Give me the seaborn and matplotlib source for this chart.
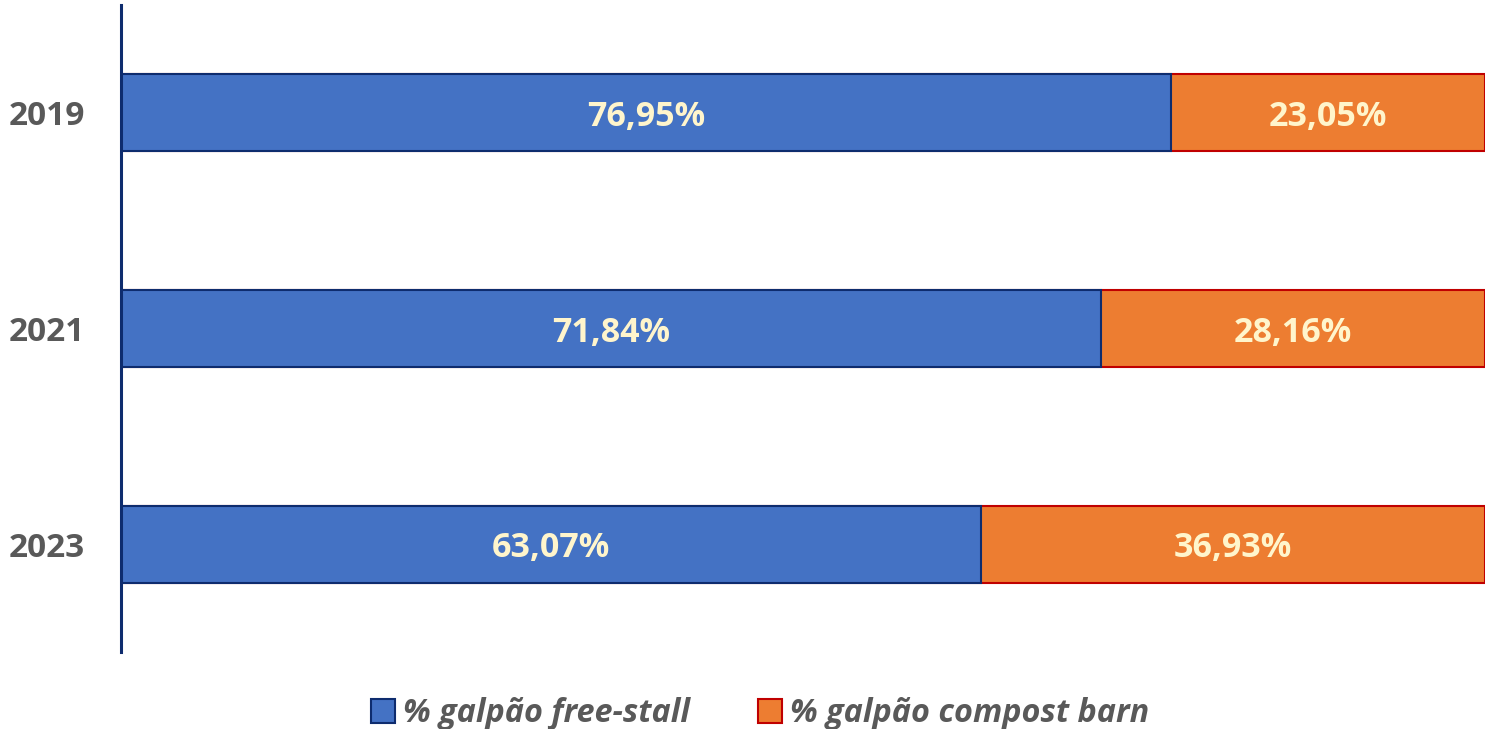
import matplotlib
matplotlib.use('Agg')
import matplotlib.pyplot as plt
import pandas as pd
import seaborn as sns
from matplotlib.patches import Patch

years = ['2019', '2021', '2023']
free_stall = [76.95, 71.84, 63.07]
compost_barn = [23.05, 28.16, 36.93]
series_names = ['% galpão free-stall', '% galpão compost barn']

blue, blue_edge = '#4472C4', '#0E2C6E'
orange, orange_edge = '#ED7D31', '#C00000'
label_color = '#FFF5CC'
gray = '#595959'

df = pd.DataFrame({'ano': years, 'free': free_stall, 'compost': compost_barn})
df['total'] = df['free'] + df['compost']

sns.set_theme(style='white')
plt.rcParams['font.family'] = ['Open Sans', 'DejaVu Sans']

fig = plt.figure(figsize=(14.91, 7.29), dpi=100)
ax = fig.add_axes([121 / 1491, 1 - 652 / 729, (1485 - 121) / 1491, (652 - 5) / 729])

# stacked: orange full length first, blue over it
sns.barplot(data=df, x='total', y='ano', orient='h', color=orange, saturation=1,
            width=0.356, edgecolor=orange_edge, linewidth=1.5, ax=ax)
sns.barplot(data=df, x='free', y='ano', orient='h', color=blue, saturation=1,
            width=0.356, edgecolor=blue_edge, linewidth=1.5, ax=ax)

for i, row in df.iterrows():
    ax.text(row['free'] / 2, i, f"{row['free']:.2f}%".replace('.', ','), ha='center',
            va='center_baseline', color=label_color, fontsize=24.5, fontweight='bold')
    ax.text(row['free'] + row['compost'] / 2, i, f"{row['compost']:.2f}%".replace('.', ','),
            ha='center', va='center_baseline', color=label_color, fontsize=24.5, fontweight='bold')

ax.set_xlim(0, 100)
ax.set_ylim(2.5, -0.5)
ax.set_xlabel('')
ax.set_ylabel('')
ax.set_xticks([])
ax.tick_params(axis='y', length=0, pad=26)
for lab in ax.get_yticklabels():
    lab.set_fontsize(24)
    lab.set_fontweight('bold')
    lab.set_color(gray)
    lab.set_verticalalignment('center_baseline')
for s in ['top', 'right', 'bottom']:
    ax.spines[s].set_visible(False)
ax.spines['left'].set_color('#0E2C6E')
ax.spines['left'].set_linewidth(2.2)

handles = [Patch(facecolor=blue, edgecolor=blue_edge, linewidth=1.5),
           Patch(facecolor=orange, edgecolor=orange_edge, linewidth=1.5)]
leg = fig.legend(handles, series_names, loc='center', bbox_to_anchor=(760 / 1491, 1 - 714 / 729),
                 ncol=2, frameon=False, handlelength=0.75, handleheight=0.75, handletextpad=0.25,
                 columnspacing=2.1, prop={'size': 23.3, 'weight': 'bold', 'style': 'italic'})
for t in leg.get_texts():
    t.set_color(gray)

fig.savefig('out.png', dpi=100)
